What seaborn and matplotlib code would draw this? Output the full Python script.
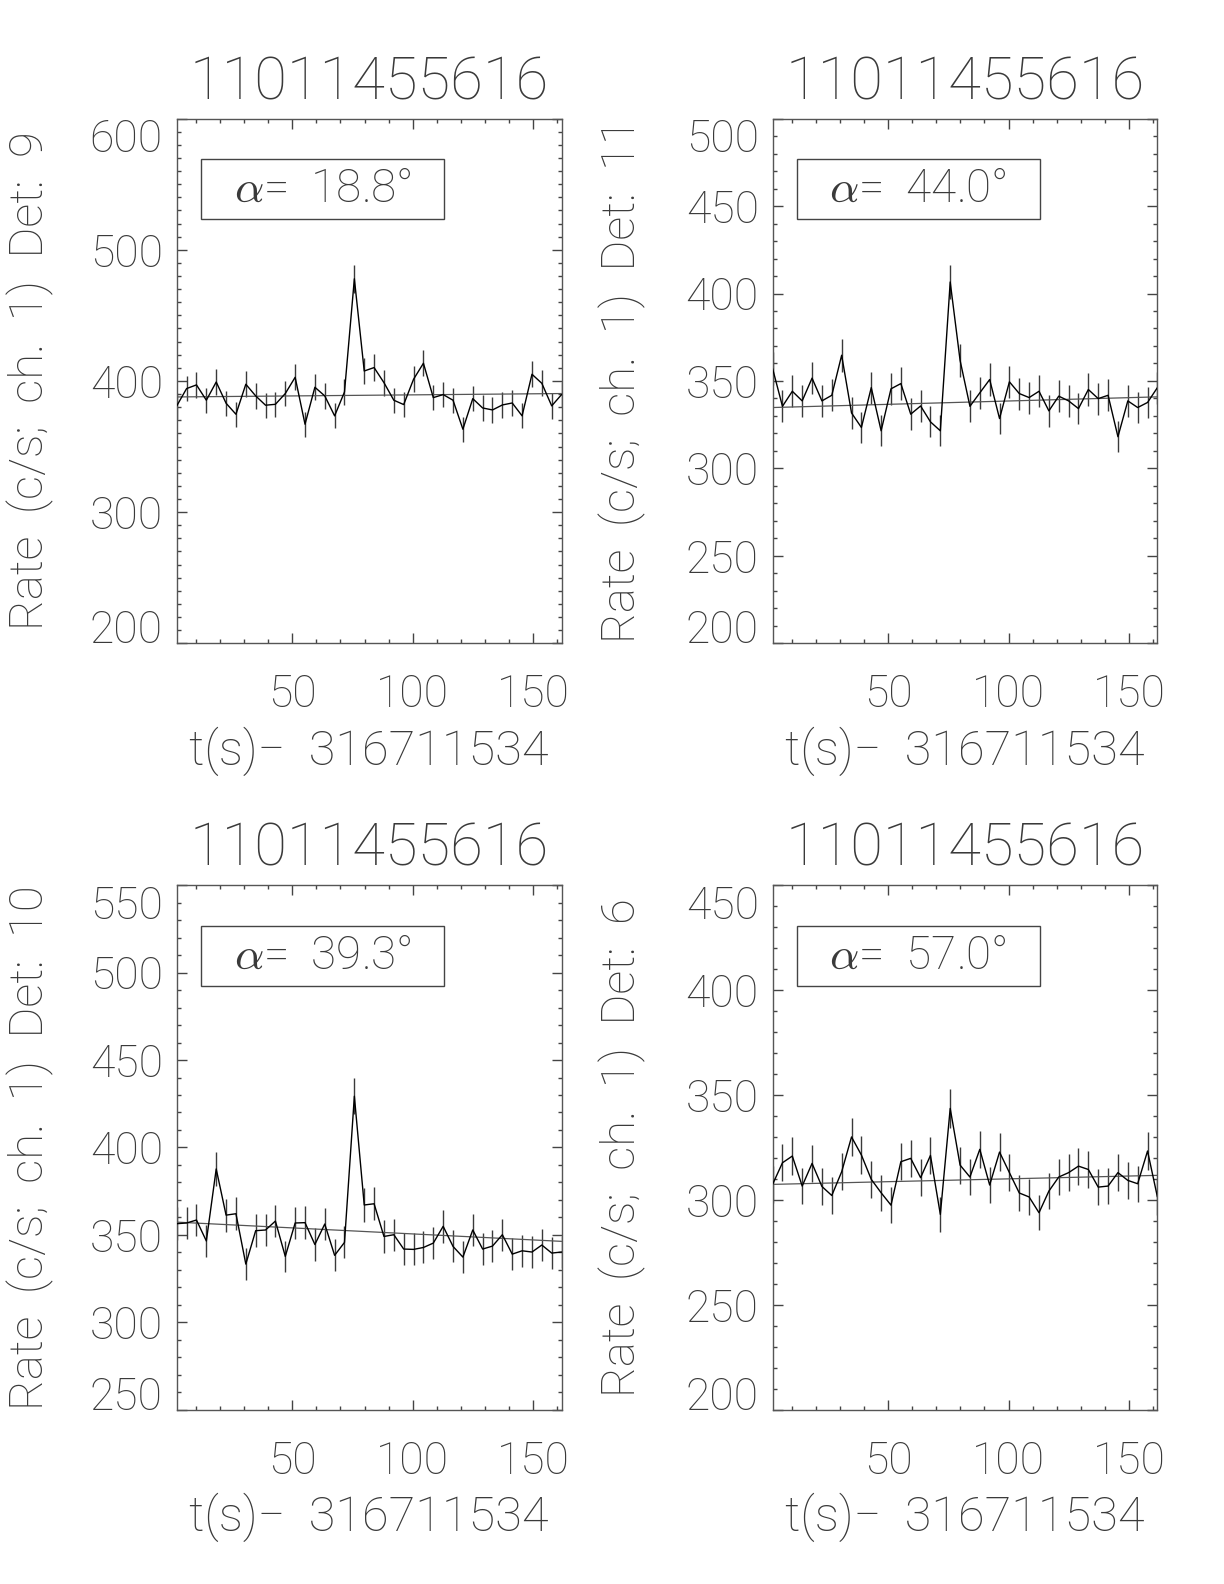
import numpy as np
import pandas as pd
import matplotlib
matplotlib.use('Agg')
import matplotlib.pyplot as plt
import matplotlib.patches as patches
from matplotlib.ticker import MultipleLocator
import seaborn as sns

# --- datos ---
trigger = "11011455616"
t_offset = 316711534
bin_width = 4.096
time = 2.048 + bin_width * np.arange(40)

rate_det9 = [381.0, 394.2, 397.0, 385.3, 399.2, 383.0, 374.6, 397.5, 388.6, 381.5,
             382.2, 390.4, 402.8, 367.0, 395.2, 388.6, 373.4, 391.6, 477.9, 407.6,
             410.2, 398.7, 385.3, 382.0, 401.3, 413.5, 387.3, 389.6, 385.3, 363.2,
             386.5, 379.4, 377.9, 381.7, 383.2, 373.4, 405.1, 398.2, 381.0, 389.6]
rate_det11 = [357.1, 335.5, 344.1, 338.6, 351.6, 338.6, 341.8, 364.7, 331.7, 323.4,
              346.2, 321.5, 345.5, 348.5, 331.0, 335.7, 326.6, 321.5, 406.6, 361.8,
              335.5, 343.2, 350.8, 328.5, 349.5, 342.8, 340.5, 344.1, 332.9, 341.3,
              338.6, 334.2, 345.1, 339.9, 341.8, 318.1, 338.6, 334.8, 337.7, 346.2]
rate_det10 = [356.4, 356.8, 358.5, 346.5, 387.7, 361.3, 362.1, 333.3, 352.4, 352.8,
              357.9, 337.7, 356.8, 357.0, 344.5, 356.2, 338.3, 345.7, 429.3, 367.1,
              367.8, 349.1, 350.1, 341.9, 341.7, 342.8, 345.3, 354.9, 343.4, 337.3,
              352.8, 341.9, 343.6, 350.1, 339.0, 340.9, 340.2, 344.2, 339.6, 340.2]
rate_det6 = [307.4, 317.7, 320.9, 306.6, 317.4, 306.4, 302.1, 313.4, 330.0, 321.4,
             309.8, 303.4, 297.5, 318.2, 319.8, 310.6, 321.2, 293.1, 343.6, 316.6,
             310.9, 324.1, 307.1, 322.8, 313.0, 303.3, 301.4, 293.9, 304.2, 310.9,
             313.0, 316.1, 314.5, 306.1, 306.6, 313.0, 309.3, 307.7, 323.3, 301.4]

# ajuste de fondo (extremos)
fit_det9 = [387.8, 390.4]
fit_det11 = [334.8, 340.9]
fit_det10 = [357.3, 346.3]
fit_det6 = [307.4, 311.7]

detectors = [9, 11, 10, 6]
alphas = [18.8, 44.0, 39.3, 57.0]
rates = [rate_det9, rate_det11, rate_det10, rate_det6]
fits = [fit_det9, fit_det11, fit_det10, fit_det6]
ylims = [(200, 600), (200, 500), (250, 550), (200, 450)]
ymajor = [100, 50, 50, 50]

# --- estilo ---
sns.set_style('ticks')
plt.rcParams['font.family'] = ['Roboto', 'DejaVu Sans']
plt.rcParams['font.weight'] = 'light'
plt.rcParams['mathtext.fontset'] = 'cm'
TXT = '#3a3a3a'

fig = plt.figure(figsize=(12.24, 15.84), dpi=100)
fig.patch.set_facecolor('white')

# posiciones de los ejes (fraccion de figura)
lefts = [0.1444, 0.6312, 0.1444, 0.6312]
bottoms = [0.5939, 0.5939, 0.1100, 0.1100]
w, h = 0.3144, 0.3312
ylab_x = [-0.318, -0.330, -0.318, -0.330]

axes = []
for i in range(4):
    ax = fig.add_axes([lefts[i], bottoms[i], w, h])
    axes.append(ax)
    df = pd.DataFrame({'t': time, 'rate': rates[i]})
    df['err'] = np.sqrt(df['rate'] / bin_width)

    # barras de error
    ax.vlines(df['t'], df['rate'] - df['err'], df['rate'] + df['err'],
              color='#3a3a3a', lw=1.0, zorder=2)
    # curva de luz
    sns.lineplot(data=df, x='t', y='rate', sort=False, estimator=None,
                 color='black', lw=1.0, ax=ax, zorder=3)
    # fondo
    fit_df = pd.DataFrame({'t': [time[0], time[-1]], 'rate': fits[i]})
    sns.lineplot(data=fit_df, x='t', y='rate', sort=False, estimator=None,
                 color='#555555', lw=0.9, ax=ax, zorder=2)

    ax.set_xlim(time[0], time[-1])
    ax.set_ylim(*ylims[i])
    ax.xaxis.set_major_locator(MultipleLocator(50))
    ax.xaxis.set_minor_locator(MultipleLocator(10))
    ax.yaxis.set_major_locator(MultipleLocator(ymajor[i]))
    ax.yaxis.set_minor_locator(MultipleLocator(10))
    ax.tick_params(which='both', direction='in', top=True, right=True,
                   colors='#444444', labelcolor=TXT, labelsize=32)
    ax.tick_params(which='major', length=7, width=1)
    ax.tick_params(which='minor', length=3, width=1)
    ax.tick_params(axis='x', which='major', pad=22)
    ax.tick_params(axis='y', which='major', pad=10)
    for sp in ax.spines.values():
        sp.set_color('#555555')
        sp.set_linewidth(1.0)

    ax.set_title(trigger, fontsize=43, color=TXT, fontweight=100, pad=14)
    ax.set_xlabel(f't(s)\u2212  {t_offset}', fontsize=35, color=TXT, fontweight='light')
    ax.set_ylabel(f'Rate  (c/s;  ch.  1)  Det:  {detectors[i]}', fontsize=34,
                  color=TXT, fontweight='light')
    ax.xaxis.set_label_coords(0.5, -0.158)
    ax.yaxis.set_label_coords(ylab_x[i], 0.5)

    # recuadro con el angulo
    ax.add_patch(patches.Rectangle((0.063, 0.808), 0.632, 0.115, transform=ax.transAxes,
                                   fill=False, edgecolor='#444444', lw=1.0, zorder=5))
    ax.text(0.379, 0.866, f'$\\alpha$=  {alphas[i]:.1f}°', transform=ax.transAxes,
            ha='center', va='center', fontsize=33, color=TXT, fontweight='light')

# etiquetas de los extremos del eje y hacia dentro, como en IDL
fig.canvas.draw()
for i, ax in enumerate(axes):
    lo, hi = ylims[i]
    for tick in ax.yaxis.get_major_ticks():
        loc = tick.get_loc()
        tick.label1.set_fontweight('light')
        if np.isclose(loc, hi):
            tick.label1.set_va('top')
        elif np.isclose(loc, lo):
            tick.label1.set_va('baseline')
    for tick in ax.xaxis.get_major_ticks():
        tick.label1.set_fontweight('light')

plt.savefig('out.png', dpi=100, facecolor='white')
